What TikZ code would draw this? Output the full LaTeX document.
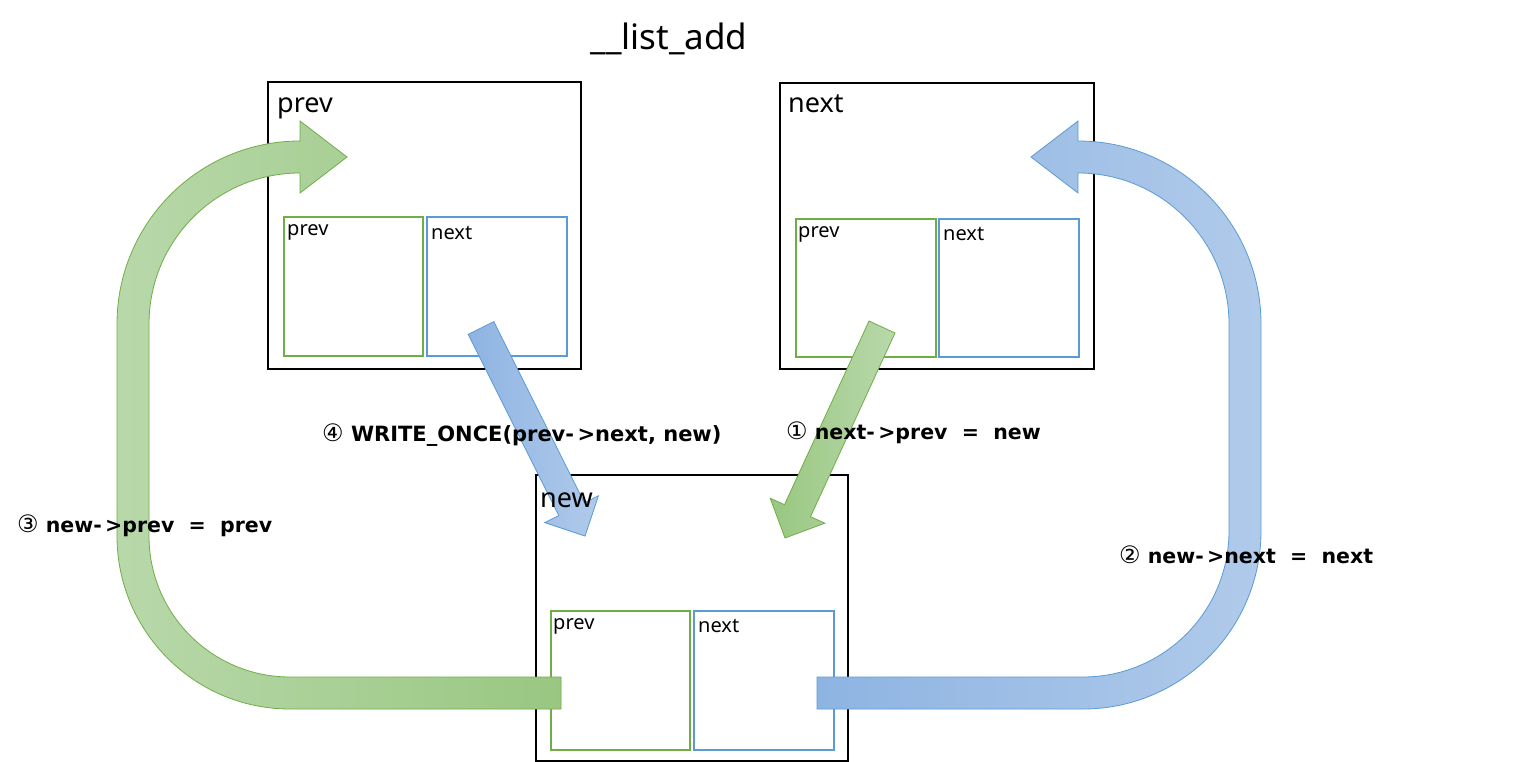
\documentclass[tikz,border=0pt]{standalone}
\usepackage{fontspec}
\setmainfont{Noto Sans}
\newfontfamily\symfont{DejaVu Sans}
\newfontfamily\stepfont{DejaVu Sans}
\newcommand{\circdigit}[1]{{\symfont\mdseries\fontsize{24}{24}\selectfont #1}}
\usetikzlibrary{calc}
\definecolor{gline}{RGB}{112,173,71}
\definecolor{bline}{RGB}{91,155,213}
\definecolor{glight}{RGB}{184,216,170}
\definecolor{gdark}{RGB}{153,199,129}
\definecolor{blight}{RGB}{176,202,234}
\definecolor{bdark}{RGB}{142,180,226}
\begin{document}
\begin{tikzpicture}[x=1pt,y=-1pt,
  outerbox/.style={draw=black,line width=1.8pt,inner sep=0pt,anchor=north west},
  gbox/.style={draw=gline,line width=1.8pt,inner sep=0pt,anchor=north west,minimum width=139pt,minimum height=139pt},
  bbox/.style={draw=bline,line width=1.8pt,inner sep=0pt,anchor=north west,minimum width=140pt,minimum height=139pt},
  garrow/.style={left color=glight,right color=gdark,draw=gline,line width=0.8pt},
  garrowr/.style={left color=gdark,right color=glight,draw=gline,line width=0.8pt},
  barrow/.style={left color=bdark,right color=blight,draw=bline,line width=0.8pt},
  titletext/.style={font=\fontsize{27}{30}\selectfont,inner sep=0pt,anchor=base west},
  smalltext/.style={font=\fontsize{20}{24}\selectfont,inner sep=0pt,anchor=base west},
  steptext/.style={font=\stepfont\fontsize{20.5}{24}\selectfont\bfseries,inner sep=0pt,anchor=west}
]
\useasboundingbox[fill=white] (0,0) rectangle (1525,762);

% boxes
\node[outerbox,minimum width=313pt,minimum height=287pt] (prevbox) at (267,81) {};
\node[outerbox,minimum width=314pt,minimum height=286pt] (nextbox) at (779,82) {};
\node[outerbox,minimum width=312pt,minimum height=286pt] (newbox) at (535,474) {};
\node[gbox] (pp) at (283,216) {};
\node[bbox] (pn) at (426,216) {};
\node[gbox,minimum width=140pt,minimum height=138pt] (np) at (795,218) {};
\node[bbox,minimum height=138pt] (nn) at (938,218) {};
\node[gbox] (wp) at (550,610) {};
\node[bbox] (wn) at (693,610) {};

% (3) new->prev = prev : big green arrow
\draw[garrow] (561,709) -- (290,709)
  .. controls (194.5,709) and (117,631.5) .. (117,536)
  -- (117,324)
  .. controls (117,223) and (199,141) .. (300,141)
  -- (300,121) -- (347,157) -- (300,193) -- (300,173)
  .. controls (216.6,173) and (149,240.6) .. (149,324)
  -- (149,536)
  .. controls (149,613.9) and (212.1,677) .. (290,677)
  -- (561,677) -- cycle;

% (2) new->next = next : big blue arrow
\draw[barrow] (817,677) -- (1083,677)
  .. controls (1163.6,677) and (1229,611.6) .. (1229,531)
  -- (1229,324)
  .. controls (1229,240.6) and (1161.4,173) .. (1078,173)
  -- (1078,193) -- (1031,157) -- (1078,121) -- (1078,141)
  .. controls (1179,141) and (1261,223) .. (1261,324)
  -- (1261,531)
  .. controls (1261,629.3) and (1181.3,709) .. (1083,709)
  -- (817,709) -- cycle;

% (4) WRITE_ONCE(prev->next, new) : small blue arrow
\draw[barrow] (468.2,334.4) -- (558.8,515.6) -- (544.8,522.6) -- (585,536)
  -- (598.4,495.8) -- (584.4,502.8) -- (493.8,321.6) -- cycle;

% (1) next->prev = new : small green arrow
\draw[garrowr] (869,321) -- (784.5,504.7) -- (770.2,498.2) -- (785,538)
  -- (824.8,523.2) -- (810.5,516.7) -- (895,333) -- cycle;

% texts
\node[inner sep=0pt,anchor=base,font=\fontsize{35}{40}\selectfont] (title) at (669,50) {\_\_list\_add};
\node[titletext] (tprev) at (277,113) {prev};
\node[titletext] (tnext) at (788,113) {next};
\node[titletext] (tnew) at (540,507) {new};
\node[smalltext] (lpp) at (287,235) {prev};
\node[smalltext] (lpn) at (431,239) {next};
\node[smalltext] (lnp) at (798,237) {prev};
\node[smalltext] (lnn) at (943,240) {next};
\node[smalltext] (lwp) at (553,629) {prev};
\node[smalltext] (lwn) at (698,632) {next};

\node[steptext,font=\stepfont\fontsize{21}{24}\selectfont\bfseries] (s4) at (322,435) {\circdigit{④}\ WRITE\_ONCE(prev-\,>next, new)};
\node[steptext] (s1) at (786,433) {\circdigit{①}\ next-\,>prev\ \ =\ \ new};
\node[steptext] (s3) at (17,526) {\circdigit{③}\ new-\,>prev\ \ =\ \ prev};
\node[steptext] (s2) at (1119,555) {\circdigit{②}\ new-\,>next\ \ =\ \ next};
\end{tikzpicture}
\end{document}
